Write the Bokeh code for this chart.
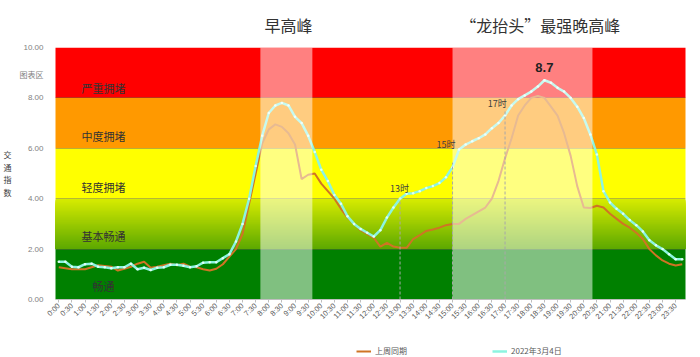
import math
from bokeh.plotting import figure
from bokeh.layouts import column
from bokeh.models import FixedTicker, Label, Legend, LegendItem, LinearAxis
from bokeh.embed import file_html
from bokeh.resources import INLINE

# ---------------- data ----------------
times = [i * 0.25 for i in range(96)]  # 0:00 .. 23:45, every 15 min

last_week = [1.28, 1.24, 1.20, 1.20, 1.20, 1.28, 1.36, 1.33,
             1.30, 1.15, 1.22, 1.30, 1.42, 1.50, 1.26, 1.30,
             1.36, 1.42, 1.36, 1.42, 1.30, 1.28, 1.20, 1.15,
             1.22, 1.40, 1.70, 2.00, 2.60, 3.80, 5.00, 6.20,
             6.75, 6.95, 6.85, 6.60, 6.15, 4.78, 4.95, 5.00,
             4.60, 4.30, 4.00, 3.60, 3.25, 3.00, 2.75, 2.60,
             2.45, 2.10, 2.25, 2.10, 2.05, 2.05, 2.40, 2.55,
             2.72, 2.78, 2.85, 2.95, 3.00, 3.00, 3.20, 3.35,
             3.50, 3.65, 4.00, 4.70, 5.60, 6.40, 7.30, 7.70,
             8.00, 8.08, 8.00, 7.65, 7.30, 6.60, 5.70, 4.50,
             3.65, 3.63, 3.72, 3.65, 3.40, 3.20, 3.00, 2.85,
             2.65, 2.40, 2.00, 1.75, 1.55, 1.42, 1.35, 1.40]

mar4 = [1.50, 1.50, 1.30, 1.28, 1.40, 1.42, 1.30, 1.28,
        1.24, 1.28, 1.28, 1.42, 1.20, 1.26, 1.17, 1.26,
        1.28, 1.38, 1.38, 1.34, 1.28, 1.32, 1.46, 1.48,
        1.48, 1.64, 1.80, 2.30, 3.00, 4.00, 5.30, 6.50,
        7.40, 7.70, 7.80, 7.70, 7.25, 7.00, 6.50, 5.85,
        5.15, 4.70, 4.15, 3.80, 3.30, 3.00, 2.80, 2.65,
        2.50, 2.75, 3.25, 3.65, 4.00, 4.20, 4.22, 4.30,
        4.42, 4.50, 4.62, 4.85, 5.25, 5.95, 6.15, 6.28,
        6.40, 6.55, 6.80, 7.00, 7.30, 7.70, 7.95, 8.10,
        8.25, 8.45, 8.70, 8.60, 8.40, 8.25, 8.00, 7.65,
        7.20, 6.55, 5.75, 4.30, 3.85, 3.60, 3.40, 3.15,
        2.95, 2.70, 2.35, 2.15, 2.00, 1.80, 1.60, 1.60]

series_names = ["上周同期", "2022年3月4日"]
series_colors = ["#cf7424", "#8cf4e0"]

tick_hours = [i * 0.5 for i in range(48)]
tick_labels = ["%d:%s" % (int(h), "30" if h % 1 else "00") for h in tick_hours]

y_ticks = [0, 2, 4, 6, 8, 10]
chart_area_tag_y = 8.89
chart_area_tag = "图表区"

level_bottoms = [0, 4, 6, 8]
level_tops = [2, 6, 8, 10]
level_colors = ["#008000", "#ffff00", "#ff9900", "#ff0000"]
grad_bottom, grad_top = 2, 4
grad_color_bottom = (0x5c, 0xa8, 0x00)
grad_color_top = (0xd8, 0xec, 0x00)

level_names = ["畅通", "基本畅通", "轻度拥堵", "中度拥堵", "严重拥堵"]
level_label_y = [0.54, 2.52, 4.47, 6.50, 8.41]
level_label_x = 1.7

peak_starts = [7.68, 15.0]
peak_ends = [9.66, 20.33]
peak_titles = ["早高峰", "“龙抬头”最强晚高峰"]
peak_title_x = [8.75, 18.34]

marker_hours = [13, 15, 17]
marker_texts = ["13时", "15时", "17时"]
marker_tops = [4.0, 5.43, 7.5]
marker_text_x = [12.98, 14.75, 16.7]
marker_text_y = [4.40, 6.14, 7.77]

CJK = "Noto Sans CJK SC"
LAT = "'Liberation Sans', 'Noto Sans CJK SC'"

# ---------------- main figure ----------------
p = figure(frame_width=630, frame_height=252, x_range=(-0.125, 23.875), y_range=(0, 10),
           output_backend="svg", toolbar_location=None,
           min_border_left=52, min_border_right=10, min_border_top=47, min_border_bottom=41,
           background_fill_color="white", border_fill_color="white", outline_line_color=None)
p.grid.visible = False

# background bands
p.quad(left=-1, right=25, bottom=level_bottoms, top=level_tops, fill_color=level_colors, line_color=None)
n = 40
gt, gc = [], []
for k in range(n, 0, -1):
    f = (k - 0.5) / n
    gt.append(grad_bottom + (grad_top - grad_bottom) * k / n)
    c = tuple(int(round(a + (b - a) * f)) for a, b in zip(grad_color_bottom, grad_color_top))
    gc.append("#%02x%02x%02x" % c)
p.quad(left=-1, right=25, bottom=grad_bottom, top=gt, fill_color=gc, line_color=None)

p.hspan(y=y_ticks[1:-1], line_color="#6b6b3a", line_alpha=0.45, line_width=1)

# series
p.line(times, last_week, line_color=series_colors[0], line_width=2)
p.line(times, mar4, line_color=series_colors[1], line_width=2.5)
p.scatter(times, mar4, size=2.5, fill_color="#e0fff8", line_color=None)

# peak highlights (above lines)
p.quad(left=peak_starts, right=peak_ends, bottom=0, top=10, fill_color="white", fill_alpha=0.5, line_color=None)

# marker dashed lines
p.segment(x0=marker_hours, y0=0, x1=marker_hours, y1=marker_tops,
          line_color="#a8a8a8", line_dash="3 2", line_width=1)

# ---------------- axes ----------------
p.xaxis.ticker = FixedTicker(ticks=tick_hours)
p.xaxis.major_label_overrides = {(int(h) if h == int(h) else h): lab for h, lab in zip(tick_hours, tick_labels)}
p.xaxis.major_label_orientation = math.pi / 4
p.xaxis.major_label_text_font_size = "7.5px"
p.xaxis.major_label_text_color = "#595959"
p.xaxis.major_label_text_font = "Liberation Sans"
p.xaxis.axis_line_color = "#bfbfbf"
p.xaxis.major_tick_line_color = "#bfbfbf"
p.xaxis.major_tick_out = 3
p.xaxis.major_tick_in = 0
p.xaxis.minor_tick_line_color = None
p.xaxis.major_label_standoff = 2

yticks_all = y_ticks + [chart_area_tag_y]
y_over = {t: "%.2f" % t for t in y_ticks}
y_over[chart_area_tag_y] = chart_area_tag
p.yaxis.ticker = FixedTicker(ticks=yticks_all)
p.yaxis.major_label_overrides = y_over
p.yaxis.major_label_text_font_size = "8px"
p.yaxis.major_label_text_color = "#7f7f7f"
p.yaxis.major_label_text_font = LAT
p.yaxis.axis_line_color = None
p.yaxis.major_tick_line_color = None
p.yaxis.minor_tick_line_color = None
p.yaxis.major_label_standoff = 6
p.yaxis.axis_label = "交\n通\n指\n数"
p.yaxis.axis_label_orientation = "horizontal"
p.yaxis.axis_label_text_font = CJK
p.yaxis.axis_label_text_font_size = "8px"
p.yaxis.axis_label_text_line_height = 1.15
p.yaxis.axis_label_text_font_style = "normal"
p.yaxis.axis_label_text_color = "#404040"
p.yaxis.axis_label_standoff = 5

# peak titles as an upper axis
top_axis = LinearAxis(ticker=FixedTicker(ticks=peak_title_x),
                      major_label_overrides=dict(zip(peak_title_x, peak_titles)),
                      axis_line_color=None, major_tick_line_color=None, minor_tick_line_color=None,
                      major_label_text_font=CJK, major_label_text_font_size="16px",
                      major_label_text_color="#333333", major_label_standoff=5)
p.add_layout(top_axis, "above")

# ---------------- texts inside plot ----------------
for name, yv in zip(level_names, level_label_y):
    p.add_layout(Label(x=level_label_x, y=yv, text=name, text_font=CJK, text_font_size="11px",
                       text_color="#333333", text_align="center", text_baseline="middle"))

imax = max(range(len(mar4)), key=lambda i: mar4[i])
p.add_layout(Label(x=times[imax], y=mar4[imax] + 0.5, text="%.1f" % mar4[imax], text_font="Liberation Sans",
                   text_font_size="13px", text_font_style="bold", text_color="#222222",
                   text_align="center", text_baseline="middle"))

for t, xv, yv in zip(marker_texts, marker_text_x, marker_text_y):
    p.add_layout(Label(x=xv, y=yv, text=t, text_font=CJK, text_font_size="9px",
                       text_color="#404040", text_align="center", text_baseline="middle"))

# ---------------- legend strip (own small figure, legend inside its frame) ----------------
lg = figure(width=692, height=17, x_range=(-0.125, 23.875), y_range=(50, 51),
            output_backend="svg", toolbar_location=None, x_axis_location=None, y_axis_location=None,
            min_border=0, background_fill_color="white", border_fill_color="white", outline_line_color=None)
lg.grid.visible = False
lg_r0 = lg.line(times, last_week, line_color=series_colors[0], line_width=2)
lg_r1 = lg.line(times, mar4, line_color=series_colors[1], line_width=2.5)
legend = Legend(items=[LegendItem(label=series_names[0], renderers=[lg_r0]),
                       LegendItem(label=series_names[1], renderers=[lg_r1])],
                orientation="horizontal", location=(301, 1), margin=0, padding=2,
                spacing=85, glyph_width=15, glyph_height=10, label_height=10, label_standoff=4,
                label_text_font=CJK, label_text_font_size="8px", label_text_color="#595959",
                background_fill_alpha=0, border_line_color=None)
lg.add_layout(legend, "center")

layout = column(p, lg, spacing=0)
open("out.html", "w").write(file_html(layout, INLINE))
